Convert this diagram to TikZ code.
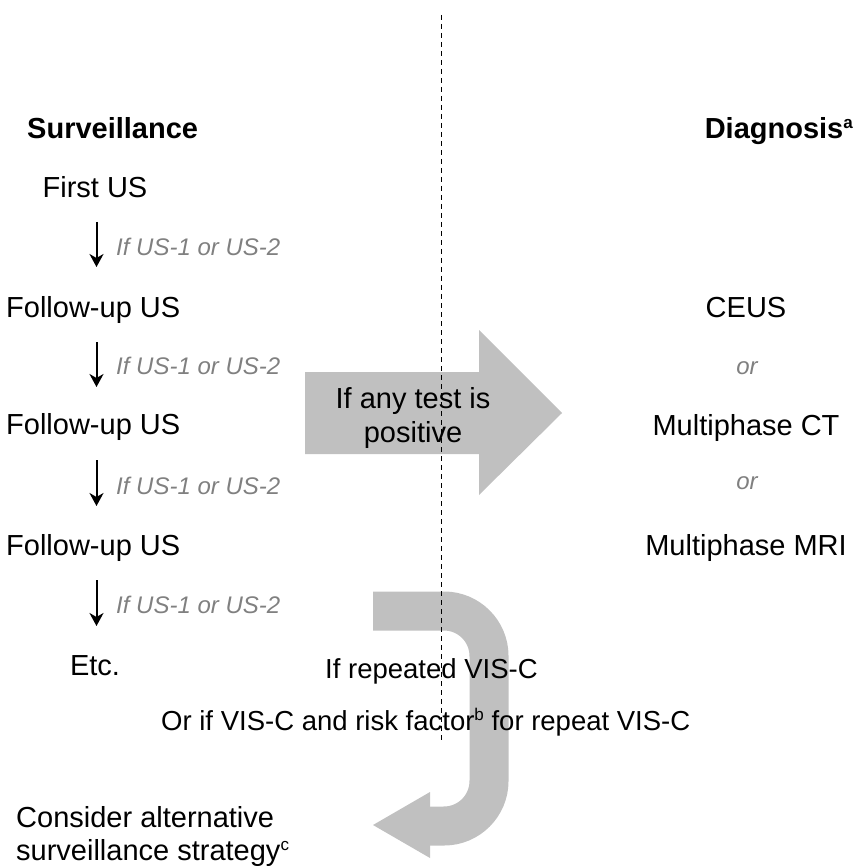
\documentclass[tikz,border=0pt]{standalone}
\usepackage{fontspec}
\setmainfont{Liberation Sans}
\usetikzlibrary{arrows.meta}
\definecolor{arrowfill}{RGB}{192,192,192}
\definecolor{labelgray}{RGB}{128,128,128}
\newcommand\supmark[1]{\raisebox{10pt}{\fontsize{17}{17}\selectfont #1}}
\begin{document}
\begin{tikzpicture}[x=1pt,y=-1pt,
  maintext/.style={font=\fontsize{29}{34}\selectfont, inner sep=0pt, anchor=base},
  smalltext/.style={font=\fontsize{27.5}{32}\selectfont, inner sep=0pt, anchor=base west},
  headtext/.style={font=\fontsize{29}{34}\selectfont\bfseries, inner sep=0pt},
  labtext/.style={font=\fontsize{24}{28}\selectfont\itshape, text=labelgray, inner sep=0pt, anchor=base},
  steparrow/.style={draw=black, line width=2pt, -{Stealth[length=13pt,width=14pt,inset=4pt]}},
  divider/.style={draw=black, line width=1pt, dash pattern=on 5pt off 4pt},
  bigfill/.style={fill=arrowfill, draw=none}]
\useasboundingbox (0,0) rectangle (863,866);

% big right arrow
\fill[bigfill] (305,372) -- (479,372) -- (479,330) -- (562,413) -- (479,495) -- (479,454) -- (305,454) -- cycle;

% curved arrow
\coordinate (cvs) at (373,611);
\coordinate (cve) at (428,826);
\draw[arrowfill, line width=39pt, rounded corners=45pt] (cvs) -- (489,611) -- (489,826) -- (cve);
\fill[bigfill] (430,792) -- (430,858) -- (373,825) -- cycle;

% divider
\coordinate (dtop) at (441,15);
\coordinate (dbot) at (441,743);
\draw[divider] (dtop) -- (dbot);

% headings
\node[headtext, anchor=base west] (surv) at (27,138.5) {Surveillance};
\node[headtext, anchor=base east] (diag) at (853,138.5) {Diagnosis\supmark{a}};

% left column
\node[maintext] (first) at (95,197.5) {First US};
\node[maintext, anchor=base west] (fu1) at (6,317) {Follow-up US};
\node[maintext, anchor=base west] (fu2) at (6,434.5) {Follow-up US};
\node[maintext, anchor=base west] (fu3) at (6,555.5) {Follow-up US};
\node[maintext] (etc) at (95,675.5) {Etc.};
\node[maintext, anchor=base west] (cons1) at (16,827.5) {Consider alternative};
\node[maintext, anchor=base west] (cons2) at (16,860.5) {surveillance strategy\supmark{c}};

% step arrows
\coordinate (a1t) at (96.5,222); \coordinate (a1b) at (96.5,267);
\coordinate (a2t) at (96.5,342); \coordinate (a2b) at (96.5,387);
\coordinate (a3t) at (96.5,460); \coordinate (a3b) at (96.5,506);
\coordinate (a4t) at (96.5,580); \coordinate (a4b) at (96.5,626);
\draw[steparrow] (a1t) -- (a1b);
\draw[steparrow] (a2t) -- (a2b);
\draw[steparrow] (a3t) -- (a3b);
\draw[steparrow] (a4t) -- (a4b);

\node[labtext, anchor=base west] (l1) at (116,255.6) {If US-1 or US-2};
\node[labtext, anchor=base west] (l2) at (116,374.6) {If US-1 or US-2};
\node[labtext, anchor=base west] (l3) at (116,494.6) {If US-1 or US-2};
\node[labtext, anchor=base west] (l4) at (116,613.6) {If US-1 or US-2};

% right column
\node[maintext] (ceus) at (746,317.5) {CEUS};
\node[labtext] (or1) at (747,374) {or};
\node[maintext] (mct) at (746,435.5) {Multiphase CT};
\node[labtext] (or2) at (747,489) {or};
\node[maintext] (mmri) at (746,555.5) {Multiphase MRI};

% big arrow text
\node[maintext] (pos1) at (413,408.5) {If any test is};
\node[maintext] (pos2) at (413,442.5) {positive};

% curved arrow text
\node[smalltext] (rep1) at (325,678) {If repeated VIS-C};
\node[smalltext] (rep2) at (161,730) {Or if VIS-C and risk factor\supmark{b} for repeat VIS-C};
\end{tikzpicture}
\end{document}
